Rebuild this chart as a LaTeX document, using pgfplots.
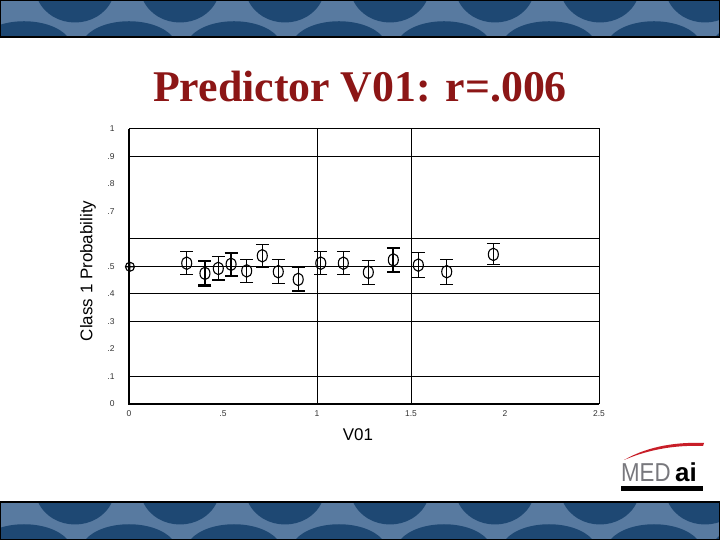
\documentclass[border=0pt]{standalone}
\usepackage{fontspec}
\setmainfont{Liberation Sans}
\newfontfamily\titlefont{Liberation Serif}
\usepackage{pgfplots}
\pgfplotsset{compat=1.18}
\definecolor{titlered}{RGB}{140,22,22}
\definecolor{bandark}{RGB}{30,72,115}
\definecolor{banlight}{RGB}{88,122,160}
\definecolor{logogray}{RGB}{120,120,125}
\definecolor{logored}{RGB}{200,30,40}

\pgfplotstableread{
x y e
0.307 0.512 0.042
0.475 0.493 0.042
0.626 0.484 0.042
0.709 0.539 0.042
0.794 0.481 0.044
0.900 0.453 0.042
1.020 0.512 0.042
1.140 0.512 0.042
1.273 0.479 0.044
1.539 0.505 0.045
1.690 0.481 0.045
1.938 0.544 0.038
}\thinpts
\pgfplotstableread{
x y e
0.404 0.475 0.044
0.543 0.508 0.042
1.406 0.524 0.044
}\thickpts
\pgfplotstableread{
x y
0.005 0.499
}\originpt

\begin{document}
\begin{tikzpicture}
\begin{scope}[x=1bp,y=1bp]
\useasboundingbox (0,0) rectangle (720,540);
\fill[white] (0,0) rectangle (720,540);
% top banner
\begin{scope}
\clip (0,503) rectangle (720,540);
\fill[banlight] (0,503) rectangle (720,540);
\foreach \i in {0,...,7} {
  \fill[bandark] ({-20+105*\i},503) .. controls ({-2+105*\i},524) and ({50+105*\i},524) .. ({68+105*\i},503) -- cycle;
  \fill[bandark] ({38+105*\i},540) .. controls ({52+105*\i},510) and ({98+105*\i},510) .. ({112+105*\i},540) -- cycle;
}
\end{scope}
\draw[black, line width=1.5bp] (0,503) rectangle (720,540);
% bottom banner
\begin{scope}
\clip (0,0) rectangle (720,38);
\fill[banlight] (0,0) rectangle (720,38);
\foreach \i in {0,...,7} {
  \fill[bandark] ({-20+105*\i},0) .. controls ({-2+105*\i},21) and ({50+105*\i},21) .. ({68+105*\i},0) -- cycle;
  \fill[bandark] ({38+105*\i},38) .. controls ({52+105*\i},8) and ({98+105*\i},8) .. ({112+105*\i},38) -- cycle;
}
\end{scope}
\draw[black, line width=1.5bp] (0,0) rectangle (720,38);
% logo
\fill[logored] (624,80) .. controls (650,95) and (680,98) .. (704,97) -- (703,94) .. controls (680,95) and (652,92) .. (624,80) -- cycle;
\node[anchor=base west, inner sep=0, font=\fontsize{26}{26}\selectfont, text=logogray, xscale=0.86] at (621,58) {MED};
\node[anchor=base west, inner sep=0, font=\bfseries\fontsize{26}{26}\selectfont, text=black] at (675,58) {ai};
\fill[black] (621,49) rectangle (703,53.5);
% title
\node[anchor=base, inner sep=0, font=\titlefont\bfseries\fontsize{44}{48}\selectfont, text=titlered] at (360,438) {Predictor V01: r=.006};
\end{scope}

\begin{axis}[
  name=ax,
  at={(129bp,136bp)}, anchor=south west, scale only axis,
  width=470bp, height=275bp,
  xmin=0, xmax=2.5, ymin=0, ymax=1,
  xtick={0,0.5,1,1.5,2,2.5},
  xticklabels={0,.5,1,1.5,2,2.5},
  ytick={0,0.1,0.2,0.3,0.4,0.5,0.7,0.8,0.9,1},
  yticklabels={0,.1,.2,.3,.4,.5,.7,.8,.9,1},
  major tick length=0pt,
  /pgf/number format/assume math mode=true,
  ticklabel style={font=\fontsize{8.5}{9}\selectfont, text=black!80},
  yticklabel style={xshift=-11bp},
  xticklabel style={yshift=-3bp},
  extra y ticks={0.1,0.3,0.4,0.5,0.6,0.9},
  extra y tick labels={},
  extra x ticks={1,1.5},
  extra x tick labels={},
  extra tick style={grid=major, major grid style={black, line width=1bp}},
  axis line style={black, line width=1bp},
  xlabel={V01},
  ylabel={Class 1 Probability},
  xlabel style={font=\fontsize{17}{18}\selectfont, at={(axis description cs:0.487,-0.113)}, anchor=center},
  ylabel style={font=\fontsize{17}{18}\selectfont, at={(axis description cs:-0.087,0.484)}, anchor=center},
  clip=false,
]
\addplot[only marks, black, mark=o, mark size=5bp, mark options={yscale=1.25, line width=1.1bp},
  error bars/.cd, y dir=both, y explicit,
  error bar style={line width=1.1bp, black},
  error mark options={rotate=90, mark size=6.5bp, line width=1.1bp, black}]
  table[x=x, y=y, y error=e] {\thinpts};
\addplot[only marks, black, mark=o, mark size=5bp, mark options={yscale=1.25, line width=1.1bp},
  error bars/.cd, y dir=both, y explicit,
  error bar style={line width=2.2bp, black},
  error mark options={rotate=90, mark size=6.5bp, line width=2.2bp, black}]
  table[x=x, y=y, y error=e] {\thickpts};
\addplot[only marks, black, mark=oplus, mark size=4.5bp, mark options={line width=1.1bp}]
  table[x=x, y=y] {\originpt};
\end{axis}
\draw[black, line width=2.6bp] (ax.north west) -- (ax.south west) -- (ax.south east);
\end{tikzpicture}
\end{document}
